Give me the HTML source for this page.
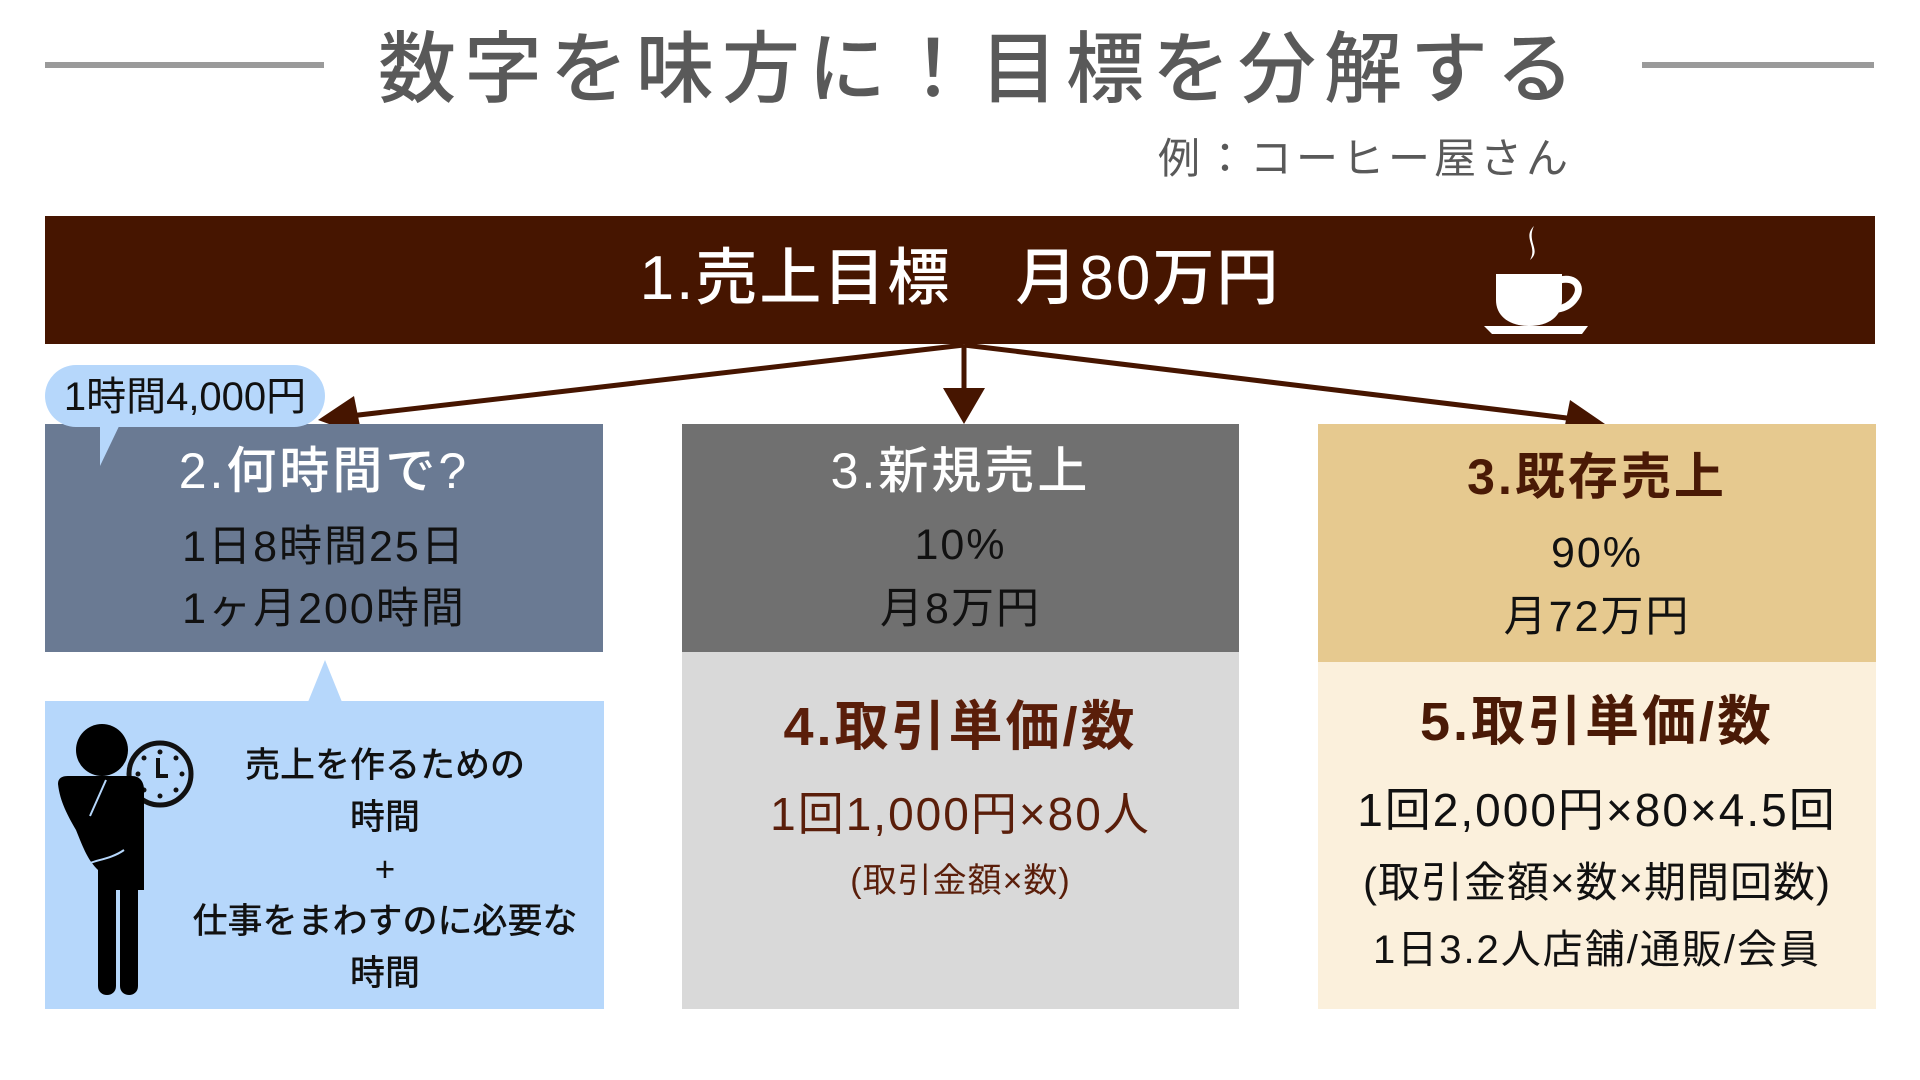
<!DOCTYPE html>
<html><head><meta charset="utf-8"><style>
body{margin:0;width:1920px;height:1080px;background:#fff;position:relative;overflow:hidden;font-family:"Liberation Sans","Noto Sans CJK JP",sans-serif}
.a{position:absolute}
.t{position:absolute;text-align:center;white-space:nowrap;line-height:1}
</style></head><body>
<div class="a" style="left:45px;top:62px;width:279px;height:6px;background:#9a9a9a"></div>
<div class="a" style="left:1642px;top:62px;width:232px;height:6px;background:#9a9a9a"></div>
<div class="t" style="left:310px;width:1340px;top:30px;font-size:78px;color:#595959;letter-spacing:8px;font-weight:500">数字を味方に！目標を分解する</div>
<div class="t" style="left:1140px;width:450px;top:138px;font-size:42px;color:#595959;letter-spacing:4px">例：コーヒー屋さん</div>

<div class="a" style="left:45px;top:216px;width:1830px;height:128px;background:#461500"></div>
<div class="t" style="left:560px;width:800px;top:248px;font-size:62px;color:#fff;font-weight:500;letter-spacing:2px">1.売上目標　月80万円</div>
<svg class="a" style="left:1480px;top:222px" width="120" height="116" viewBox="0 0 120 116">
<path d="M54 4c-12 12 4 20-4 34c12-10-4-18 4-34z" fill="#fff"/>
<path d="M16 52h66v26c0 16-13 26-33 26s-33-10-33-26z" fill="#fff"/>
<path d="M80 58c16-4 24 8 14 20c-4 5-10 8-16 9" stroke="#fff" stroke-width="7" fill="none"/>
<path d="M4 104h104l-6 8H12z" fill="#fff"/>
</svg>

<svg class="a" style="left:0;top:0" width="1920" height="1080">
<g stroke="#461500" stroke-width="5" fill="#461500">
<line x1="964" y1="345" x2="350" y2="416"/>
<line x1="964" y1="345" x2="964" y2="395"/>
<line x1="964" y1="345" x2="1575" y2="419"/>
<polygon points="318,420 354,396 362,436" stroke="none"/>
<polygon points="964,424 943,388 985,388" stroke="none"/>
<polygon points="1605,424 1570,400 1562,440" stroke="none"/>
</g></svg>

<!-- left -->
<div class="a" style="left:45px;top:424px;width:558px;height:228px;background:#6a7a93"></div>
<div class="a" style="left:45px;top:365px;width:280px;height:62px;border-radius:31px;background:#b6d7fb"></div>
<svg class="a" style="left:90px;top:420px" width="40" height="50"><polygon points="10,0 32,0 10,46" fill="#b6d7fb"/></svg>
<div class="t" style="left:45px;width:280px;top:377px;font-size:40px;color:#111">1時間4,000円</div>
<div class="t" style="left:45px;width:558px;top:446px;font-size:50px;color:#fff;font-weight:500;letter-spacing:3px">2.何時間で?</div>
<div class="t" style="left:45px;width:558px;top:526px;font-size:43px;color:#111;letter-spacing:2px">1日8時間25日</div>
<div class="t" style="left:45px;width:558px;top:588px;font-size:43px;color:#111;letter-spacing:2px">1ヶ月200時間</div>
<div class="a" style="left:45px;top:701px;width:559px;height:308px;background:#b6d7fb"></div>
<svg class="a" style="left:300px;top:660px" width="50" height="45"><polygon points="25,0 8,42 42,42" fill="#b6d7fb"/></svg>
<div class="t" style="left:160px;width:450px;top:748px;font-size:35px;color:#111;font-weight:500">売上を作るための</div>
<div class="t" style="left:160px;width:450px;top:800px;font-size:35px;color:#111;font-weight:500">時間</div>
<div class="t" style="left:160px;width:450px;top:852px;font-size:35px;color:#111;font-weight:500">+</div>
<div class="t" style="left:160px;width:450px;top:904px;font-size:35px;color:#111;font-weight:500">仕事をまわすのに必要な</div>
<div class="t" style="left:160px;width:450px;top:956px;font-size:35px;color:#111;font-weight:500">時間</div>
<svg class="a" style="left:50px;top:720px" width="160" height="285" viewBox="0 0 160 285">
<circle cx="52" cy="30" r="26" fill="#000"/>
<circle cx="110" cy="54" r="31" fill="#b6d7fb" stroke="#111" stroke-width="5"/>
<path d="M108 38v18h10" stroke="#111" stroke-width="4" fill="none"/>
<g fill="#111"><circle cx="110" cy="32" r="2.5"/><circle cx="110" cy="76" r="2.5"/><circle cx="88" cy="54" r="2.5"/><circle cx="132" cy="54" r="2.5"/><circle cx="94" cy="38" r="2.5"/><circle cx="126" cy="38" r="2.5"/><circle cx="94" cy="70" r="2.5"/><circle cx="126" cy="70" r="2.5"/></g>
<path d="M8 64c0-6 4-8 10-8h64c8 0 12 6 12 14v100h-6v96c0 12-18 12-18 0v-96h-4v96c0 12-18 12-18 0V150c-10-10-14-20-22-40C18 96 10 82 8 64z" fill="#000"/>
<path d="M56 60l-16 36M34 146c8-6 26-6 40-16" stroke="#b6d7fb" stroke-width="2" fill="none"/>
</svg>

<!-- middle -->
<div class="a" style="left:682px;top:424px;width:557px;height:228px;background:#707070"></div>
<div class="a" style="left:682px;top:652px;width:557px;height:357px;background:#d9d9d9"></div>
<div class="t" style="left:682px;width:557px;top:446px;font-size:50px;color:#fff;font-weight:500;letter-spacing:3px">3.新規売上</div>
<div class="t" style="left:682px;width:557px;top:524px;font-size:43px;color:#111;letter-spacing:2px">10%</div>
<div class="t" style="left:682px;width:557px;top:588px;font-size:43px;color:#111;letter-spacing:2px">月8万円</div>
<div class="t" style="left:682px;width:557px;top:700px;font-size:54px;color:#5a1e0a;font-weight:bold;letter-spacing:3px">4.取引単価/数</div>
<div class="t" style="left:682px;width:557px;top:791px;font-size:46px;color:#5a1e0a;letter-spacing:2px">1回1,000円×80人</div>
<div class="t" style="left:682px;width:557px;top:864px;font-size:34px;color:#5a1e0a;letter-spacing:1px">(取引金額×数)</div>

<!-- right -->
<div class="a" style="left:1318px;top:424px;width:558px;height:238px;background:#e6c98f"></div>
<div class="a" style="left:1318px;top:662px;width:558px;height:347px;background:#fbf0dc"></div>
<div class="t" style="left:1318px;width:558px;top:452px;font-size:50px;color:#4a1a06;font-weight:bold;letter-spacing:3px">3.既存売上</div>
<div class="t" style="left:1318px;width:558px;top:532px;font-size:43px;color:#111;letter-spacing:2px">90%</div>
<div class="t" style="left:1318px;width:558px;top:596px;font-size:43px;color:#111;letter-spacing:2px">月72万円</div>
<div class="t" style="left:1318px;width:558px;top:695px;font-size:54px;color:#4a1a06;font-weight:bold;letter-spacing:3px">5.取引単価/数</div>
<div class="t" style="left:1318px;width:558px;top:787px;font-size:46px;color:#111;letter-spacing:2px">1回2,000円×80×4.5回</div>
<div class="t" style="left:1318px;width:558px;top:862px;font-size:42px;color:#111;letter-spacing:1px">(取引金額×数×期間回数)</div>
<div class="t" style="left:1318px;width:558px;top:930px;font-size:40px;color:#111;letter-spacing:2px">1日3.2人店舗/通販/会員</div>
</body></html>
